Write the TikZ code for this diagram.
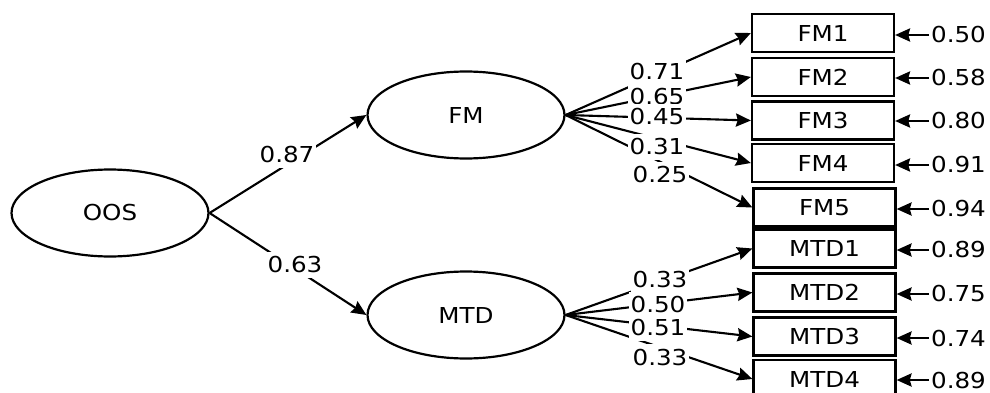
\documentclass[tikz,border=0pt]{standalone}
\usepackage{fontspec}
\setmainfont[FakeStretch=1.12]{DejaVu Sans}
\usetikzlibrary{shapes.geometric,arrows.meta}
\begin{document}
\begin{tikzpicture}[x=0.02cm,y=-0.02cm,
  every node/.style={font=\fontsize{12.5pt}{15pt}\selectfont},
  latent/.style={draw,ellipse,line width=1.25pt,minimum width=3.94cm,minimum height=1.74cm,inner sep=0pt},
  obs/.style={draw,rectangle,line width=1.3pt,minimum width=2.84cm,minimum height=0.76cm,inner sep=0pt},
  arr/.style={line width=1.2pt,-{Stealth[length=8.5pt,width=7.5pt,inset=1pt]}},
  lab/.style={fill=white,inner xsep=1pt,inner ysep=2.5pt},
  errlab/.style={anchor=west,inner xsep=1pt,inner ysep=0pt}]
\clip (0,0) rectangle (990,392);
% latent variables
\node[latent] (OOS) at (110,213) {OOS};
\node[latent] (FM) at (466,115) {FM};
\node[latent] (MTD) at (466,315) {MTD};
% observed variables
\node[obs] (FM1) at (823,33) {FM1};
\node[obs] (FM2) at (823,77) {FM2};
\node[obs] (FM3) at (823,120.5) {FM3};
\node[obs] (FM4) at (823,163) {FM4};
\node[obs] (FM5) at (824.5,207.5) {FM5};
\node[obs] (MTD1) at (824.5,248.5) {MTD1};
\node[obs] (MTD2) at (824.5,292.5) {MTD2};
\node[obs] (MTD3) at (824.5,336.5) {MTD3};
\node[obs] (MTD4) at (824.5,379) {MTD4};
% error terms
\node[errlab] (e1) at (929,35) {0.50};
\node[errlab] (e2) at (929,78) {0.58};
\node[errlab] (e3) at (929,121) {0.80};
\node[errlab] (e4) at (929,165) {0.91};
\node[errlab] (e5) at (929,209) {0.94};
\node[errlab] (e6) at (929,250) {0.89};
\node[errlab] (e7) at (929,294) {0.75};
\node[errlab] (e8) at (929,338) {0.74};
\node[errlab] (e9) at (929,380) {0.89};
% structural paths
\draw[arr] (OOS.east) -- (FM.west);
\draw[arr] (OOS.east) -- (MTD.west);
% loadings
\draw[arr] (FM.east) -- (FM1.west);
\draw[arr] (FM.east) -- (FM2.west);
\draw[arr] (FM.east) -- (FM3.west);
\draw[arr] (FM.east) -- (FM4.west);
\draw[arr] (FM.east) -- (FM5.west);
\draw[arr] (MTD.east) -- (MTD1.west);
\draw[arr] (MTD.east) -- (MTD2.west);
\draw[arr] (MTD.east) -- (MTD3.west);
\draw[arr] (MTD.east) -- (MTD4.west);
% error arrows
\foreach \e/\b in {e1/FM1,e2/FM2,e3/FM3,e4/FM4,e5/FM5,e6/MTD1,e7/MTD2,e8/MTD3,e9/MTD4}
  \draw[arr] (\e.west) -- (\b.east |- \e.west);
% path labels
\node[lab] (l0) at (287,155) {0.87};
\node[lab] (l00) at (295,265) {0.63};
\node[lab] (l1) at (657,72) {0.71};
\node[lab] (l2) at (657,97) {0.65};
\node[lab] (l3) at (657,117) {0.45};
\node[lab] (l4) at (657,147) {0.31};
\node[lab] (l5) at (660,175) {0.25};
\node[lab] (l6) at (660,280) {0.33};
\node[lab] (l7) at (658,305) {0.50};
\node[lab] (l8) at (658,328) {0.51};
\node[lab] (l9) at (660,357) {0.33};
\end{tikzpicture}
\end{document}
